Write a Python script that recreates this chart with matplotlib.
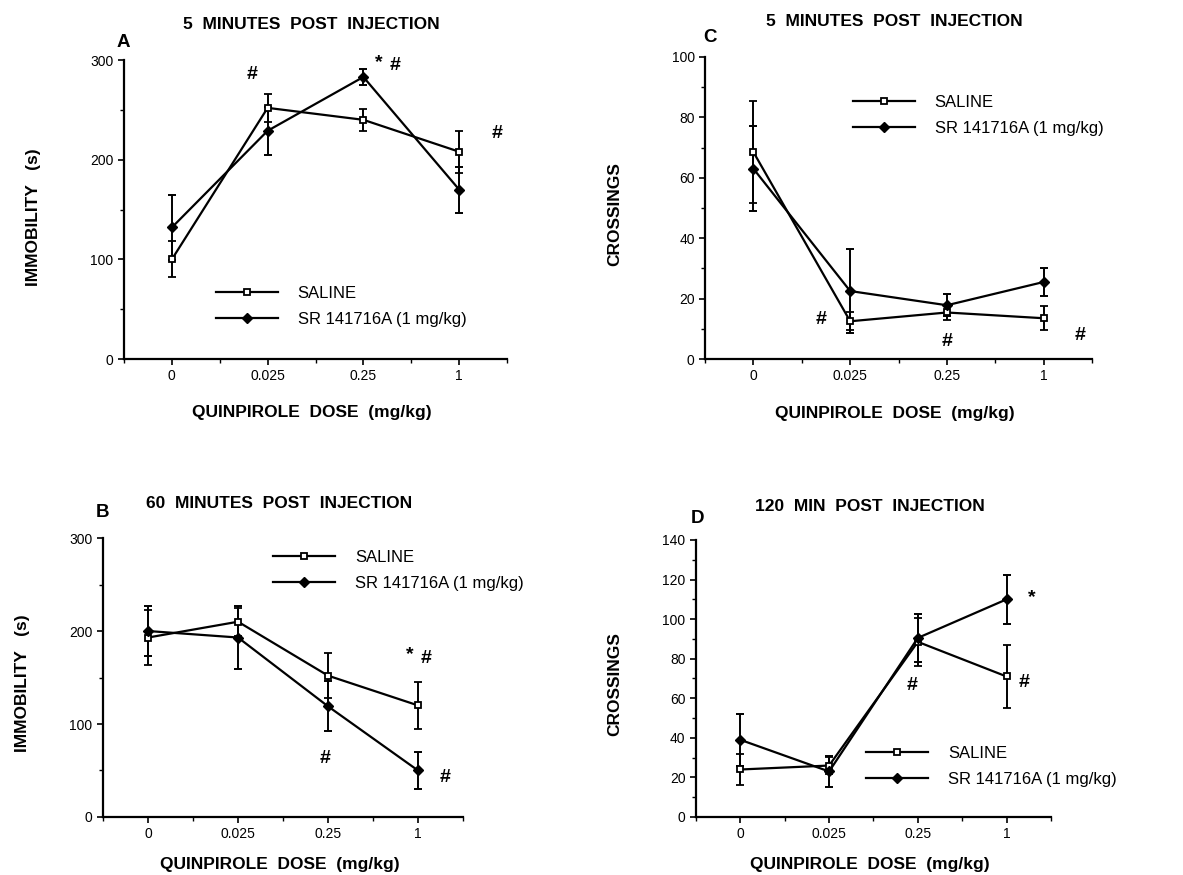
import matplotlib
matplotlib.use("Agg")
import matplotlib.pyplot as plt
from matplotlib.lines import Line2D

plt.rcParams['font.family'] = ['Liberation Sans', 'DejaVu Sans']

# quinpirole doses (categorical x axis)
doses = ["0", "0.025", "0.25", "1"]
xpos = [0, 1, 2, 3]

# A: immobility, 5 min
a_sal = [100, 252, 240, 208]
a_sal_err = [18, 14, 11, 21]
a_sr = [132, 229, 283, 170]
a_sr_err = [33, 24, 8, 23]

# B: immobility, 60 min
b_sal = [193, 210, 152, 120]
b_sal_err = [30, 15, 24, 25]
b_sr = [200, 193, 119, 50]
b_sr_err = [27, 34, 27, 20]

# C: crossings, 5 min
c_sal = [68.5, 12.5, 15.4, 13.5]
c_sal_err = [17, 3, 2.5, 4]
c_sr = [63, 22.5, 17.8, 25.5]
c_sr_err = [14, 14, 3.6, 4.7]

# D: crossings, 120 min
d_sal = [24, 26, 88.5, 71]
d_sal_err = [8, 4.5, 12, 16]
d_sr = [39, 23, 90.5, 110]
d_sr_err = [13, 8, 12, 12.5]

labels = ["SALINE", "SR 141716A (1 mg/kg)"]

fig = plt.figure(figsize=(11.83, 8.75), dpi=100)


def panel(rect, sal, sal_err, sr, sr_err, ymax, ystep, ylabel, title, letter,
          marks, leg_xy, lab_pos):
    ax = fig.add_axes(rect)
    ax.errorbar(xpos, sal, yerr=sal_err, color='black', lw=1.6, capsize=3,
                elinewidth=1.4, capthick=1.4, marker='s', ms=5,
                mfc='white', mec='black', mew=1.3)
    ax.errorbar(xpos, sr, yerr=sr_err, color='black', lw=1.6, capsize=3,
                elinewidth=1.4, capthick=1.4, marker='D', ms=5,
                mfc='black', mec='black')
    ax.set_xlim(-0.5, 3.5)
    ax.set_ylim(0, ymax)
    ax.set_xticks(xpos)
    ax.set_xticklabels(doses)
    ax.set_xticks([-0.5, 0.5, 1.5, 2.5, 3.5], minor=True)
    ax.set_yticks(range(0, ymax + 1, ystep))
    ax.set_yticks(range(ystep // 2, ymax, ystep), minor=True)
    ax.spines['top'].set_visible(False)
    ax.spines['right'].set_visible(False)
    ax.spines['left'].set_linewidth(1.6)
    ax.spines['bottom'].set_linewidth(1.6)
    ax.tick_params(axis='both', which='major', labelsize=10, length=4,
                   width=1.2, direction='out')
    ax.tick_params(axis='both', which='minor', length=3, width=1)

    yx, yy, xy, tt, lx, ly = lab_pos
    ax.set_xlabel("QUINPIROLE  DOSE  (mg/kg)", fontsize=12.5,
                  fontweight='bold', va='center')
    ax.xaxis.set_label_coords(0.49, xy)
    ax.set_ylabel(ylabel, fontsize=12.5, fontweight='bold', va='center')
    ax.yaxis.set_label_coords(yx, yy)
    ax.text(0.49, tt, title, transform=ax.transAxes, fontsize=12.5,
            fontweight='bold', ha='center', va='center')
    ax.text(lx, ly, letter, transform=ax.transAxes, fontsize=13.5,
            fontweight='bold', ha='left', va='center')
    for x, y, s in marks:
        ax.text(x, y, s, fontsize=14, fontweight='bold', ha='center',
                va='center')
    handles = [
        Line2D([], [], color='black', lw=1.6, marker='s', ms=5, mfc='white',
               mec='black', mew=1.3),
        Line2D([], [], color='black', lw=1.6, marker='D', ms=5, mfc='black'),
    ]
    ax.legend(handles, labels, loc='center left', bbox_to_anchor=leg_xy,
              bbox_transform=ax.transData, frameon=False, fontsize=12,
              handlelength=3.7, handletextpad=1.2, labelspacing=0.65,
              borderpad=0, borderaxespad=0)
    return ax


panel([0.1048, 0.5897, 0.3238, 0.3417], a_sal, a_sal_err, a_sr, a_sr_err,
      300, 100, "IMMOBILITY   (s)", "5  MINUTES  POST  INJECTION", "A",
      [(0.84, 285, "#"), (2.16, 297, "*"), (2.33, 295, "#"), (3.4, 226, "#")],
      (0.46, 53), (-0.235, 0.475, -0.18, 1.118, -0.02, 1.057))

panel([0.5960, 0.5897, 0.3271, 0.3452], c_sal, c_sal_err, c_sr, c_sr_err,
      100, 20, "CROSSINGS", "5  MINUTES  POST  INJECTION", "C",
      [(0.70, 13, "#"), (2.0, 5.7, "#"), (3.38, 7.9, "#")],
      (1.03, 80.7), (-0.233, 0.48, -0.18, 1.116, -0.005, 1.063))

panel([0.0871, 0.0663, 0.3043, 0.3188], b_sal, b_sal_err, b_sr, b_sr_err,
      300, 100, "IMMOBILITY   (s)", "60  MINUTES  POST  INJECTION", "B",
      [(2.91, 175, "*"), (3.09, 170, "#"), (1.97, 63, "#"), (3.3, 43, "#")],
      (1.39, 265), (-0.225, 0.48, -0.172, 1.125, -0.02, 1.093))

panel([0.5883, 0.0663, 0.3001, 0.3166], d_sal, d_sal_err, d_sr, d_sr_err,
      140, 20, "CROSSINGS", "120  MIN  POST  INJECTION", "D",
      [(3.28, 111, "*"), (1.94, 66.6, "#"), (3.2, 68, "#")],
      (1.42, 25.5), (-0.228, 0.48, -0.173, 1.119, -0.015, 1.076))

fig.savefig("out.png", dpi=100)
